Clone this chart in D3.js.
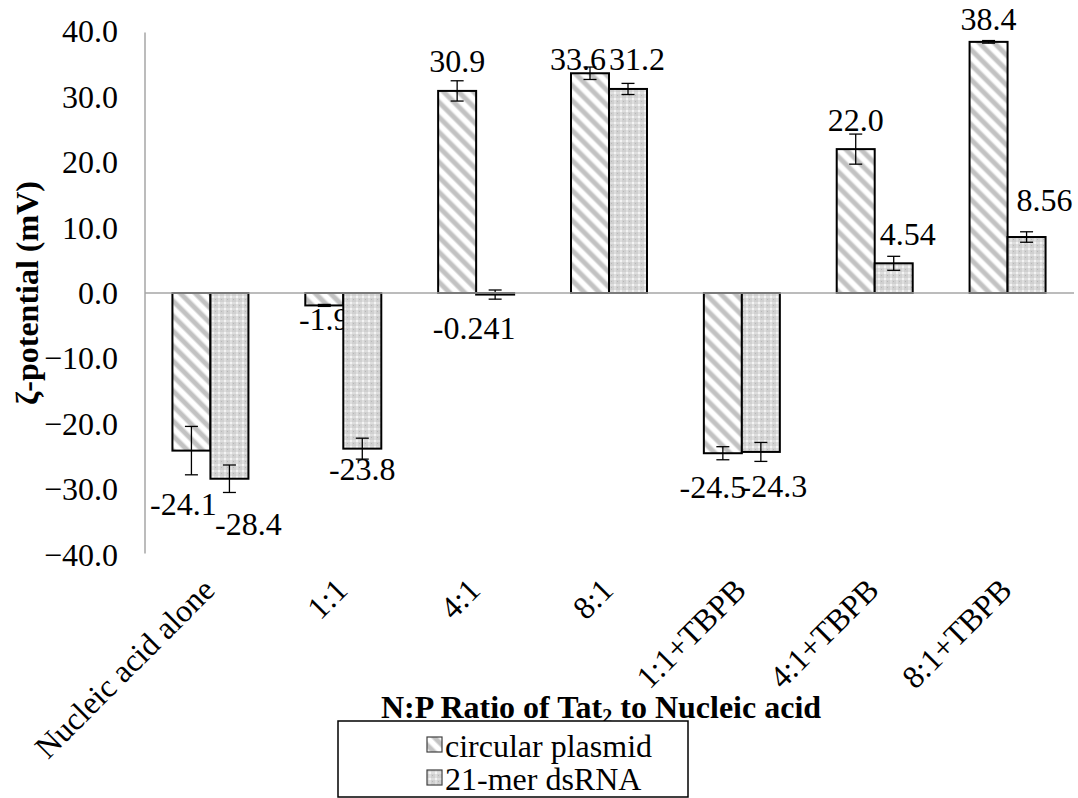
<!DOCTYPE html>
<meta charset="utf-8">
<script src="https://d3js.org/d3.v7.min.js"></script>
<style>
  body { margin: 0; background: #fff; }
</style>
<body>
<div id="chart"></div>
<script>
  // categories and values
  var categories = ["Nucleic acid alone", "1:1", "4:1", "8:1", "1:1+TBPB", "4:1+TBPB", "8:1+TBPB"];
  var plasmid = [-24.1, -1.9, 30.9, 33.6, -24.5, 22.0, 38.4];
  var dsrna = [-28.4, -23.8, -0.241, 31.2, -24.3, 4.54, 8.56];
  var plasmidErr = [3.7, 0.15, 1.55, 0.95, 1.0, 2.3, 0.2];
  var dsrnaErr = [2.1, 1.6, 0.7, 0.85, 1.45, 1.07, 0.8];
  var plasmidText = ["-24.1", "-1.9", "30.9", "33.6", "-24.5", "22.0", "38.4"];
  var dsrnaText = ["-28.4", "-23.8", "-0.241", "31.2", "-24.3", "4.54", "8.56"];
  var yTicks = [-40, -30, -20, -10, 0, 10, 20, 30, 40];
  var seriesNames = ["circular plasmid", "21-mer dsRNA"];

  // manual label nudges (the labels were dragged around in the original)
  var plasmidNudge = [[-8, 33], [0, -6], [0, 0], [-12, 15], [-10, 14], [0, 0], [0, 7]];
  var dsrnaNudge = [[19, 25], [0, 0], [-21, 13], [9, 0], [13, 14], [14, 0], [18, -8]];

  var serif = "'Liberation Serif', Tinos, 'Times New Roman', Times, 'Noto Serif', 'DejaVu Serif', FreeSerif, serif";

  // the serif face may be missing: scale text so widths stay close to the original
  var ctx = document.createElement("canvas").getContext("2d");
  ctx.font = "32px " + serif;
  var k = Math.min(1, (2.083 * 32) / ctx.measureText("-24.1").width);
  var fs = function (px) { return (px * k).toFixed(1) + "px"; };

  var width = 1078, height = 798;
  var svg = d3.select("#chart").append("svg")
    .attr("width", width)
    .attr("height", height)
    .style("font-family", serif);

  var defs = svg.append("defs");

  // wide downward diagonal stripes
  var diag = defs.append("pattern")
    .attr("id", "diag")
    .attr("patternUnits", "userSpaceOnUse")
    .attr("width", 10.6).attr("height", 10.6)
    .attr("patternTransform", "rotate(-45)");
  diag.append("rect").attr("width", 10.6).attr("height", 10.6).attr("fill", "#fff");
  diag.append("rect").attr("x", 2).attr("width", 6).attr("height", 10.6).attr("fill", "#e2e2e2");
  diag.append("rect").attr("x", 3).attr("width", 4).attr("height", 10.6).attr("fill", "#c2c2c2");

  // fine gray dotted grid
  var dots = defs.append("pattern")
    .attr("id", "dots")
    .attr("patternUnits", "userSpaceOnUse")
    .attr("width", 6).attr("height", 6);
  dots.append("rect").attr("width", 6).attr("height", 6).attr("fill", "#d0d0d0");
  dots.append("rect").attr("x", 2).attr("y", 0).attr("width", 2).attr("height", 6).attr("fill", "#dedede");
  dots.append("rect").attr("x", 0).attr("y", 2).attr("width", 6).attr("height", 2).attr("fill", "#dedede");
  dots.append("rect").attr("x", 2).attr("y", 2).attr("width", 2).attr("height", 2).attr("fill", "#f4f4f4");
  dots.append("rect").attr("x", 5).attr("y", 5).attr("width", 1).attr("height", 1).attr("fill", "#b8b8b8");

  var fills = ["url(#diag)", "url(#dots)"];

  var x = d3.scaleBand()
    .domain(categories)
    .range([144, 1074])
    .padding(0);

  var barW = 38;
  var xSub = d3.scaleBand()
    .domain([0, 1])
    .range([-barW, barW]);

  var y = d3.scaleLinear()
    .domain([-40, 40])
    .range([554.6, 31.4]);

  var g = svg.append("g");

  // y axis line
  g.append("line")
    .attr("x1", 145).attr("x2", 145)
    .attr("y1", y(40) + 1).attr("y2", y(-40) - 1)
    .attr("stroke", "#a6a6a6").attr("stroke-width", 1.5);

  // y tick labels
  g.selectAll(".ytick")
    .data(yTicks)
    .enter().append("text")
    .attr("class", "ytick")
    .attr("x", 118)
    .attr("y", function (d) { return y(d) + 11; })
    .attr("text-anchor", "end")
    .style("font-size", fs(32))
    .text(function (d) { return d3.format(".1f")(d); });

  // bars
  var series = [
    { values: plasmid, err: plasmidErr, text: plasmidText, nudge: plasmidNudge },
    { values: dsrna, err: dsrnaErr, text: dsrnaText, nudge: dsrnaNudge }
  ];

  series.forEach(function (s, si) {
    var rows = categories.map(function (c, i) {
      return { cat: c, v: s.values[i], e: s.err[i], t: s.text[i], n: s.nudge[i] };
    });
    var cx = function (d) { return x(d.cat) + x.bandwidth() / 2 + xSub(si) + xSub.bandwidth() / 2; };

    g.selectAll(".bar" + si)
      .data(rows)
      .enter().append("rect")
      .attr("class", "bar" + si)
      .attr("x", function (d) { return x(d.cat) + x.bandwidth() / 2 + xSub(si); })
      .attr("width", xSub.bandwidth())
      .attr("y", function (d) { return Math.min(y(0), y(d.v)); })
      .attr("height", function (d) { return Math.abs(y(d.v) - y(0)); })
      .attr("fill", fills[si])
      .attr("stroke", "#000")
      .attr("stroke-width", 2);

    // error bars
    var eb = g.selectAll(".err" + si)
      .data(rows)
      .enter().append("g")
      .attr("class", "err" + si);
    eb.append("line")
      .attr("x1", cx).attr("x2", cx)
      .attr("y1", function (d) { return y(d.v + d.e); })
      .attr("y2", function (d) { return y(d.v - d.e); })
      .attr("stroke", "#000").attr("stroke-width", 1.3);
    eb.append("line")
      .attr("x1", function (d) { return cx(d) - 6.5; })
      .attr("x2", function (d) { return cx(d) + 6.5; })
      .attr("y1", function (d) { return y(d.v + d.e); })
      .attr("y2", function (d) { return y(d.v + d.e); })
      .attr("stroke", "#000").attr("stroke-width", 1.3);
    eb.append("line")
      .attr("x1", function (d) { return cx(d) - 6.5; })
      .attr("x2", function (d) { return cx(d) + 6.5; })
      .attr("y1", function (d) { return y(d.v - d.e); })
      .attr("y2", function (d) { return y(d.v - d.e); })
      .attr("stroke", "#000").attr("stroke-width", 1.3);

    // data labels
    g.selectAll(".lab" + si)
      .data(rows)
      .enter().append("text")
      .attr("class", "lab" + si)
      .attr("x", function (d) { return cx(d) + d.n[0]; })
      .attr("y", function (d) {
        return (d.v >= 0 ? y(d.v) - 18.5 : y(d.v) + 31) + d.n[1];
      })
      .attr("text-anchor", "middle")
      .style("font-size", fs(32))
      .text(function (d) { return d.t; });
  });

  // zero line
  g.append("line")
    .attr("x1", 145).attr("x2", 1074)
    .attr("y1", y(0)).attr("y2", y(0))
    .attr("stroke", "#a6a6a6").attr("stroke-width", 1.5);

  // category labels
  g.selectAll(".xlab")
    .data(categories)
    .enter().append("text")
    .attr("class", "xlab")
    .attr("text-anchor", "end")
    .style("font-size", fs(32))
    .attr("transform", function (d) {
      return "translate(" + (x(d) + x.bandwidth() / 2 + 6) + ",592) rotate(-45)";
    })
    .text(function (d) { return d; });

  // axis titles
  svg.append("text")
    .attr("transform", "translate(38," + y(0) + ") rotate(-90)")
    .attr("text-anchor", "middle")
    .style("font-size", fs(32))
    .style("font-weight", "bold")
    .text("ζ-potential (mV)");

  var xt = svg.append("text")
    .attr("x", 601).attr("y", 718)
    .attr("text-anchor", "middle")
    .style("font-size", fs(32))
    .style("font-weight", "bold");
  xt.append("tspan").text("N:P Ratio of Tat");
  xt.append("tspan").attr("dy", 5).style("font-size", fs(20)).text("2");
  xt.append("tspan").attr("dy", -5).text(" to Nucleic acid");

  // legend
  var leg = svg.append("g");
  leg.append("rect")
    .attr("x", 338).attr("y", 721)
    .attr("width", 350).attr("height", 76)
    .attr("fill", "#fff").attr("stroke", "#000").attr("stroke-width", 1.5);

  var items = leg.selectAll(".item")
    .data(seriesNames)
    .enter().append("g")
    .attr("class", "item")
    .attr("transform", function (d, i) { return "translate(427," + (737 + i * 33) + ")"; });
  items.append("rect")
    .attr("width", 15).attr("height", 15)
    .attr("fill", function (d, i) { return fills[i]; })
    .attr("stroke", "#404040").attr("stroke-width", 1.2);
  items.append("text")
    .attr("x", 18).attr("y", 20)
    .style("font-size", fs(32))
    .text(function (d) { return d; });
</script>
</body>
